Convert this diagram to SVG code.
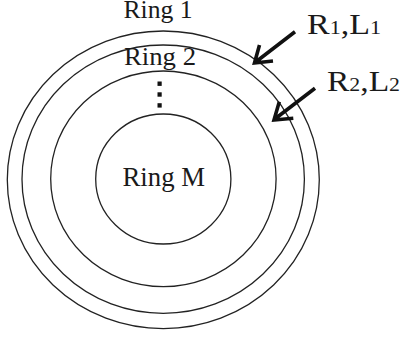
<svg xmlns="http://www.w3.org/2000/svg" width="403" height="338" viewBox="0 0 403 338">
<style>
.ring{fill:none;stroke:#222;stroke-width:1.3}
.lbl{font-family:"Liberation Serif","Times New Roman",serif;fill:#1a1a1a}
.arr{fill:none;stroke:#111;stroke-width:3.6;stroke-linejoin:miter;stroke-linecap:butt}
</style>
<rect width="403" height="338" fill="#fff"/>
<g id="ring1"><ellipse class="ring" cx="163.3" cy="179.8" rx="156" ry="148.8"/><text class="lbl" x="123.5" y="18" font-size="24.5" textLength="69" lengthAdjust="spacingAndGlyphs">Ring 1</text></g>
<g id="ring2"><ellipse class="ring" cx="163.2" cy="179.2" rx="141.2" ry="134.2"/><text class="lbl" x="124" y="65" font-size="25" textLength="72" lengthAdjust="spacingAndGlyphs">Ring 2</text></g>
<g id="ring3"><ellipse class="ring" cx="163.4" cy="178.8" rx="112.7" ry="107.8"/>
<rect x="157.5" y="81.5" width="4.2" height="4.4" fill="#111"/><rect x="157.5" y="92.3" width="4.2" height="4.4" fill="#111"/><rect x="157.5" y="103.2" width="4.2" height="4.4" fill="#111"/></g>
<g id="ringM"><ellipse class="ring" cx="163.3" cy="179" rx="67.6" ry="65"/><text class="lbl" x="122.5" y="186" font-size="26.5" textLength="82.5" lengthAdjust="spacingAndGlyphs">Ring M</text></g>
<g id="label1"><text class="lbl" x="307" y="34" font-size="30" textLength="74" lengthAdjust="spacingAndGlyphs">R<tspan font-size="19.5">1</tspan>,L<tspan font-size="19.5">1</tspan></text></g>
<g id="label2"><text class="lbl" x="327" y="90.5" font-size="30" textLength="73" lengthAdjust="spacingAndGlyphs">R<tspan font-size="19.5">2</tspan>,L<tspan font-size="19.5">2</tspan></text></g>
<g id="connectors">
<path class="arr" d="M295,31.7 L255,62.5 M259.5,45 L254.5,63 L273,61"/>
<path class="arr" d="M315,88.3 L274.5,119.3 M279.3,101.7 L274,120 L293.3,118.3"/>
</g>
</svg>
